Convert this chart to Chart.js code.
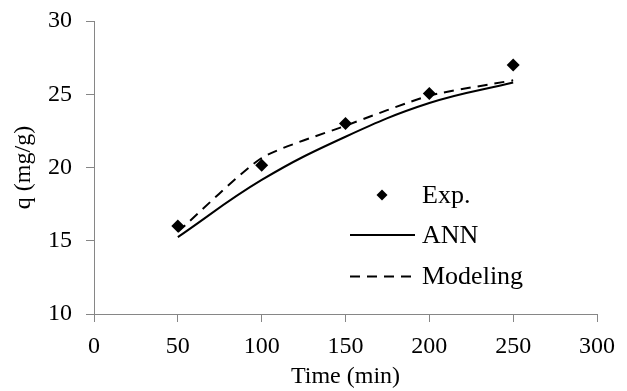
<!DOCTYPE html>
<html>
<head>
<meta charset="utf-8">
<script src="https://cdn.jsdelivr.net/npm/chart.js@4"></script>
<style>
html,body{margin:0;padding:0;background:#fff;}
#wrap{width:627px;height:391px;}
</style>
</head>
<body>
<div id="wrap"><canvas id="c" width="627" height="391"></canvas></div>
<script>
const timeExp = [50, 100, 150, 200, 250];
const qExp = [16.0, 20.15, 23.0, 25.05, 27.0];
const timeModel = [50, 100, 150, 200, 250];
const qANN = [15.25, 19.15, 22.1, 24.4, 25.8];
const qModeling = [15.6, 20.65, 22.85, 24.9, 25.95];
const xTicks = [0, 50, 100, 150, 200, 250, 300];
const yTicks = [10, 15, 20, 25, 30];
const seriesNames = ['Exp.', 'ANN', 'Modeling'];

const toXY = (xs, ys) => xs.map((x, i) => ({x: x, y: ys[i]}));
const FONT = "'Liberation Serif', 'Times New Roman', serif";
const AXIS = '#868686';

const legendPlugin = {
  id: 'inlegend',
  afterDraw(chart) {
    const ctx = chart.ctx;
    const a = chart.chartArea;
    const x0 = a.left + 256, x1 = a.left + 321, tx = a.left + 328;
    const rows = [a.top + 174, a.top + 214, a.top + 255.5];
    const order = [2, 0, 1];
    ctx.save();
    ctx.font = '26px ' + FONT;
    ctx.fillStyle = '#000';
    ctx.textBaseline = 'middle';
    order.forEach((di, r) => {
      const ds = chart.data.datasets[di];
      const y = rows[r];
      if (ds.showLine === false) {
        ctx.beginPath();
        const cx = (x0 + x1) / 2 - 0.5, rr = 5.5;
        ctx.moveTo(cx, y - rr); ctx.lineTo(cx + rr, y); ctx.lineTo(cx, y + rr); ctx.lineTo(cx - rr, y);
        ctx.closePath();
        ctx.fillStyle = ds.backgroundColor;
        ctx.fill();
        ctx.fillStyle = '#000';
      } else {
        ctx.beginPath();
        ctx.strokeStyle = ds.borderColor;
        ctx.lineWidth = ds.borderWidth;
        ctx.setLineDash(ds.borderDash || []);
        ctx.moveTo(x0, y); ctx.lineTo(x1, y);
        ctx.stroke();
        ctx.setLineDash([]);
      }
      ctx.fillText(ds.label, tx, y + 1);
    });
    ctx.restore();
  }
};

new Chart(document.getElementById('c'), {
  type: 'scatter',
  data: {
    datasets: [
      {label: seriesNames[1], data: toXY(timeModel, qANN), showLine: true, borderColor: '#000', borderWidth: 2,
       pointRadius: 0, tension: 0.4, order: 2},
      {label: seriesNames[2], data: toXY(timeModel, qModeling), showLine: true, borderColor: '#000', borderWidth: 2,
       borderDash: [10, 7], pointRadius: 0, tension: 0.2, order: 1},
      {label: seriesNames[0], data: toXY(timeExp, qExp), showLine: false, pointStyle: 'rectRot', pointRadius: 6.5,
       backgroundColor: '#000', borderColor: '#000', borderWidth: 0, order: 0}
    ]
  },
  options: {
    responsive: false,
    animation: false,
    layout: {padding: {top: 21, right: 30, left: 0, bottom: 0}},
    plugins: {legend: {display: false}, tooltip: {enabled: false}},
    scales: {
      x: {
        type: 'linear', min: 0, max: 300,
        afterBuildTicks: s => { s.ticks = xTicks.map(v => ({value: v})); },
        afterFit: s => { s.height = 77; s.paddingLeft = 0; s.paddingRight = 0; },
        grid: {display: true, drawOnChartArea: false, color: AXIS, tickLength: 8, lineWidth: 1},
        border: {color: AXIS, width: 1},
        ticks: {color: '#000', font: {family: FONT, size: 24}, padding: 10, maxRotation: 0},
        title: {display: true, text: 'Time (min)', color: '#000', font: {family: FONT, size: 24}, padding: {top: 0, bottom: 0}}
      },
      y: {
        type: 'linear', min: 10, max: 30,
        afterBuildTicks: s => { s.ticks = yTicks.map(v => ({value: v})); },
        afterFit: s => { s.width = 94; s.paddingTop = 0; s.paddingBottom = 0; },
        grid: {display: true, drawOnChartArea: false, color: AXIS, tickLength: 8, lineWidth: 1},
        border: {color: AXIS, width: 1},
        ticks: {color: '#000', font: {family: FONT, size: 24}, padding: 14},
        title: {display: true, text: 'q (mg/g)', color: '#000', font: {family: FONT, size: 24}, padding: {top: 9, bottom: 9}}
      }
    }
  },
  plugins: [legendPlugin]
});
</script>
</body>
</html>
